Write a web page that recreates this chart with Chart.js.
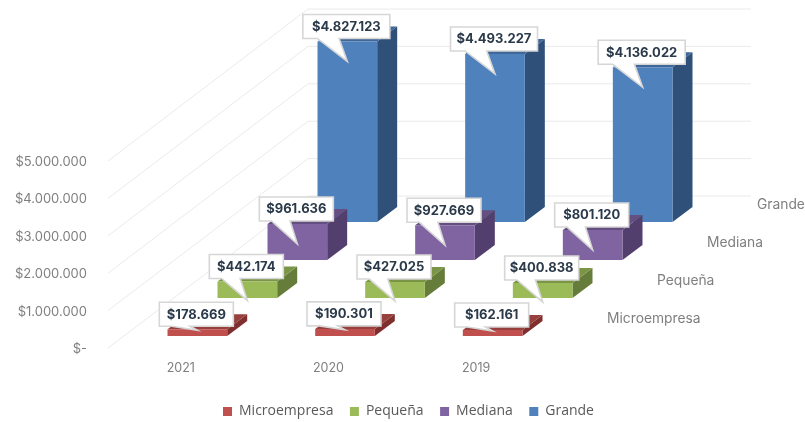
<!DOCTYPE html>
<html>
<head>
<meta charset="utf-8">
<style>html,body{margin:0;padding:0;background:#fff}#wrap{width:805px;height:422px}</style>
<script src="https://cdn.jsdelivr.net/npm/chart.js@4/dist/chart.umd.min.js"></script>
</head>
<body>
<div id="wrap"><canvas id="c" width="805" height="422"></canvas></div>
<script>
const categories = ['2021', '2020', '2019'];
const seriesNames = ['Microempresa', 'Pequeña', 'Mediana', 'Grande'];
const microempresa = [178669, 190301, 162161];
const pequena = [442174, 427025, 400838];
const mediana = [961636, 927669, 801120];
const grande = [4827123, 4493227, 4136022];
const tickLabels = ['$-', '$1.000.000', '$2.000.000', '$3.000.000', '$4.000.000', '$5.000.000'];

const seriesValues = [microempresa, pequena, mediana, grande];
const faceColors = ['#C0504D', '#9BBB59', '#8064A2', '#4F81BD'];
const topColors = ['#98403D', '#7B9547', '#654F81', '#3F6797'];
const sideColors = ['#7F2F2D', '#667C3A', '#533F6D', '#2F5078'];
const tailDrop = [1, 19, 20, 20];

const MONT = 'Inter, "Open Sans", sans-serif';
const money = v => '$' + Math.round(v).toLocaleString('de-DE');

const planeShift = i => ({dx: 16.5 + 50 * i, dy: -12 - 38 * i});
const sideDepth = {dx: 20, dy: -15};
const wall = {dx: 201, dy: -152};

function poly(ctx, pts, fill) {
  ctx.beginPath();
  pts.forEach((p, k) => k ? ctx.lineTo(p[0], p[1]) : ctx.moveTo(p[0], p[1]));
  ctx.closePath();
  ctx.fillStyle = fill;
  ctx.fill();
}

const scene3d = {
  id: 'scene3d',
  afterLayout(chart) {
    const lg = chart.legend;
    lg.left = 6; lg.right = 811;
    lg.top = 388; lg.bottom = 440;
  },
  beforeDatasetsDraw(chart) {
    const {ctx, scales} = chart;
    const xs = scales.x, ys = scales.y;
    ctx.save();
    ctx.strokeStyle = '#EAEAEA';
    ctx.lineWidth = 1;
    ys.ticks.forEach(t => {
      const py = ys.getPixelForValue(t.value);
      ctx.beginPath();
      ctx.moveTo(xs.left + 1, py);
      ctx.lineTo(xs.left + wall.dx, py + wall.dy);
      ctx.lineTo(xs.right + wall.dx, py + wall.dy);
      ctx.stroke();
    });
    ctx.restore();
  },
  beforeDatasetDraw(chart, args) {
    const {ctx} = chart;
    const s = planeShift(args.index);
    ctx.save();
    ctx.translate(s.dx, s.dy);
    args.meta.data.forEach(el => {
      const p = el.getProps(['x', 'y', 'base', 'width'], true);
      const l = p.x - p.width / 2, r = p.x + p.width / 2;
      poly(ctx, [[r, p.y], [r + sideDepth.dx, p.y + sideDepth.dy], [r + sideDepth.dx, p.base + sideDepth.dy], [r, p.base]], sideColors[args.index]);
      poly(ctx, [[l, p.y], [l + sideDepth.dx, p.y + sideDepth.dy], [r + sideDepth.dx, p.y + sideDepth.dy], [r, p.y]], topColors[args.index]);
    });
  },
  afterDatasetDraw(chart) {
    chart.ctx.restore();
  },
  afterDatasetsDraw(chart) {
    const {ctx} = chart;
    ctx.save();
    // depth-axis labels
    ctx.font = '13.8px ' + MONT;
    ctx.fillStyle = '#7F7F7F';
    ctx.textAlign = 'left';
    ctx.textBaseline = 'middle';
    seriesNames.forEach((n, i) => ctx.fillText(n, 607 + 50 * i, 319 - 38 * i));
    // value callouts
    for (let i = seriesValues.length - 1; i >= 0; i--) {
      const s = planeShift(i);
      const meta = chart.getDatasetMeta(i);
      meta.data.forEach((el, j) => {
        const p = el.getProps(['x', 'y'], true);
        const cx = p.x + s.dx, top = p.y + s.dy;
        const w = i === 3 ? 87 : 74, h = 24;
        const l = cx - 1 - w / 2, b = top - 3, t = b - h;
        const tip = [cx, top + tailDrop[i]];
        ctx.beginPath();
        ctx.moveTo(l, t);
        ctx.lineTo(l + w, t);
        ctx.lineTo(l + w, b);
        ctx.lineTo(l + w * 5 / 12, b);
        ctx.lineTo(tip[0], tip[1]);
        ctx.lineTo(l + w / 6, b);
        ctx.lineTo(l, b);
        ctx.closePath();
        ctx.fillStyle = '#FFFFFF';
        ctx.fill();
        ctx.strokeStyle = '#D6D6D6';
        ctx.lineWidth = 1.6;
        ctx.stroke();
        ctx.font = 'bold 13px ' + MONT;
        ctx.fillStyle = '#2B3A4A';
        ctx.textAlign = 'center';
        ctx.textBaseline = 'middle';
        ctx.fillText(money(seriesValues[i][j]), l + w / 2, t + h / 2 + 0.5);
      });
    }
    ctx.restore();
  }
};

new Chart(document.getElementById('c'), {
  type: 'bar',
  data: {
    labels: categories,
    datasets: seriesNames.map((n, i) => ({
      label: n,
      data: seriesValues[i],
      backgroundColor: faceColors[i],
      borderWidth: 0,
      clip: false,
      grouped: false,
      barPercentage: 0.404,
      categoryPercentage: 1
    }))
  },
  options: {
    responsive: false,
    animation: false,
    events: [],
    layout: {padding: {left: 0, right: 255, top: 161, bottom: 0}},
    plugins: {
      tooltip: {enabled: false},
      title: {display: false},
      legend: {
        display: true,
        position: 'bottom',
        labels: {
          boxWidth: 9, boxHeight: 9, padding: 16.5,
          color: '#595959',
          font: {family: '"Open Sans", sans-serif', size: 14}
        }
      }
    },
    scales: {
      x: {
        grid: {display: false, drawTicks: false},
        border: {display: false},
        afterFit(scale) { scale.height = 33.5; },
        ticks: {
          color: '#7F7F7F', padding: 13, maxRotation: 0, autoSkip: false,
          font: {family: MONT, size: 12.5}
        }
      },
      y: {
        min: 0, max: 5000000,
        grid: {display: false, drawTicks: false},
        border: {display: false},
        afterFit(scale) { scale.width = 107; },
        afterBuildTicks(scale) {
          scale.ticks = tickLabels.map((_, k) => ({value: k * 1000000}));
        },
        ticks: {
          color: '#7F7F7F', padding: 20, labelOffset: 1,
          font: {family: MONT, size: 13},
          callback: (v) => tickLabels[Math.round(v / 1000000)]
        }
      }
    }
  },
  plugins: [scene3d]
});
</script>
</body>
</html>
